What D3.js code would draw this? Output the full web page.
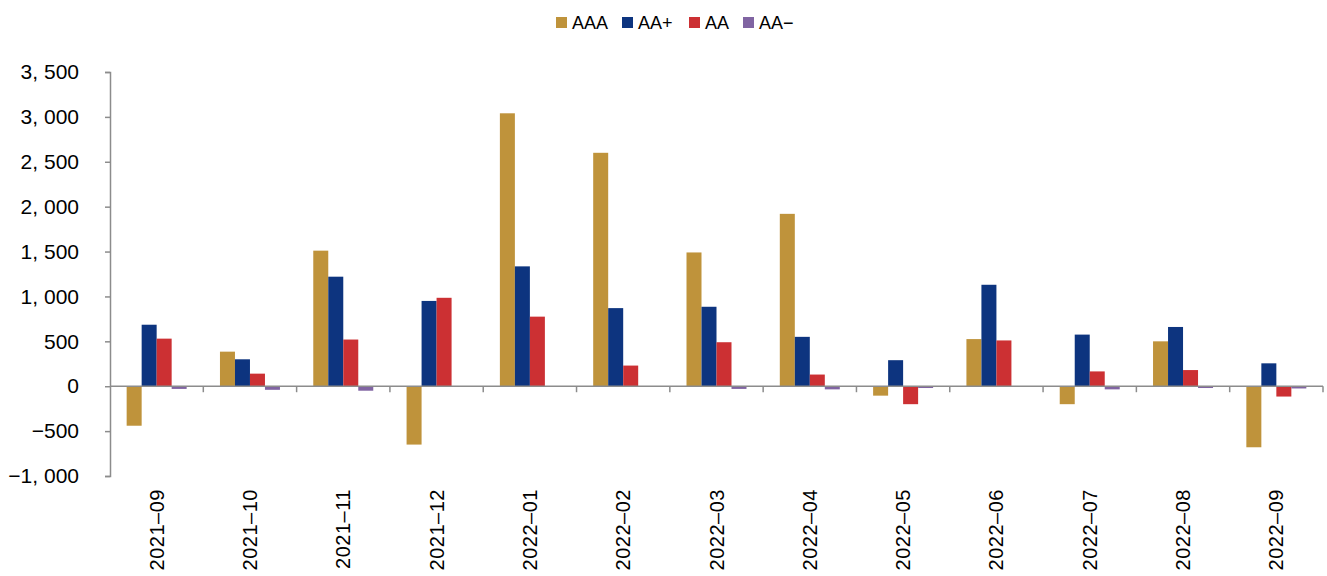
<!DOCTYPE html>
<html>
<head>
<meta charset="utf-8">
<script src="https://cdn.jsdelivr.net/npm/d3@7"></script>
<style>
  html, body { margin: 0; padding: 0; background: #fff; }
  svg { display: block; }
  text { font-family: "Liberation Sans", Arial, sans-serif; fill: #000; }
</style>
</head>
<body>
<svg id="chart" width="1327" height="576"></svg>
<script>
const categories = ["2021-09","2021-10","2021-11","2021-12","2022-01","2022-02","2022-03","2022-04","2022-05","2022-06","2022-07","2022-08","2022-09"];
const seriesNames = ["AAA","AA+","AA","AA\u2212"];
const seriesColors = ["#BF933B","#0D347F","#CC3033","#8064A2"];
const valuesAAA    = [-440, 385, 1510, -650, 3040, 2600, 1490, 1920, -105, 525, -200, 500, -680];
const valuesAAplus = [685, 300, 1220, 950, 1335, 870, 885, 550, 290, 1130, 575, 660, 255];
const valuesAA     = [530, 140, 520, 985, 775, 230, 490, 130, -200, 510, 165, 180, -115];
const valuesAAminus= [-30, -40, -50, -5, -5, -5, -30, -35, -20, -3, -35, -20, -25];
const yTicks = [-1000, -500, 0, 500, 1000, 1500, 2000, 2500, 3000, 3500];

const allSeries = [valuesAAA, valuesAAplus, valuesAA, valuesAAminus];
const svg = d3.select("#chart");

const plotLeft = 110, plotRight = 1323, plotTop = 72, plotBottom = 476;
const y = d3.scaleLinear().domain([-1000, 3500]).range([plotBottom, plotTop]);
const x0 = d3.scaleBand().domain(categories).range([plotLeft, plotRight]).padding(0);
const groupPad = (x0.bandwidth() - 60) / 2;
const x1 = d3.scaleBand().domain(d3.range(4)).range([groupPad, x0.bandwidth() - groupPad]).padding(0);

const axisColor = "#8c8c8c";
const fmt = v => {
  const s = d3.format(",")(Math.abs(v)).replace(",", ", ");
  return (v < 0 ? "\u2212" : "") + s;
};

// bars
const g = svg.append("g");
categories.forEach((c, i) => {
  allSeries.forEach((vals, s) => {
    const v = vals[i];
    g.append("rect")
      .attr("x", x0(c) + x1(s))
      .attr("width", x1.bandwidth())
      .attr("y", Math.min(y(v), y(0)))
      .attr("height", Math.abs(y(v) - y(0)))
      .attr("fill", seriesColors[s]);
  });
});

// y axis
const yAxis = d3.axisLeft(y).tickValues(yTicks).tickSize(5).tickPadding(26).tickFormat(fmt);
const ya = svg.append("g").attr("transform", `translate(${plotLeft},0)`).call(yAxis);
ya.select(".domain").attr("stroke", axisColor).attr("stroke-width", 1.5);
ya.selectAll(".tick line").attr("stroke", axisColor).attr("stroke-width", 1.5);
ya.selectAll(".tick text").attr("font-size", 21).attr("font-family", "Liberation Sans, Arial, sans-serif")
  .attr("fill", "#000");

// x axis along zero
const zeroY = y(0);
svg.append("line").attr("x1", plotLeft).attr("x2", plotRight).attr("y1", zeroY).attr("y2", zeroY)
  .attr("stroke", axisColor).attr("stroke-width", 1.5);
categories.forEach((c, i) => {
  const xb = x0(c) + x0.bandwidth();
  svg.append("line").attr("x1", xb).attr("x2", xb).attr("y1", zeroY).attr("y2", zeroY + 6)
    .attr("stroke", axisColor).attr("stroke-width", 1.5);
});

// x labels
categories.forEach(c => {
  const cx = x0(c) + x0.bandwidth() / 2;
  svg.append("text")
    .attr("transform", `translate(${cx + 7},489) rotate(-90)`)
    .attr("text-anchor", "end")
    .attr("font-size", 20)
    .style("letter-spacing", "0.5px")
    .text(c.replace("-", "\u2013"));
});

// legend
const legendItems = [
  {sx: 556, tx: 572},
  {sx: 622, tx: 638},
  {sx: 689, tx: 705},
  {sx: 743, tx: 759}
];
seriesNames.forEach((n, i) => {
  svg.append("rect").attr("x", legendItems[i].sx).attr("y", 17).attr("width", 11).attr("height", 11)
    .attr("fill", seriesColors[i]);
  svg.append("text").attr("x", legendItems[i].tx).attr("y", 29).attr("font-size", 18).text(n);
});
</script>
</body>
</html>
